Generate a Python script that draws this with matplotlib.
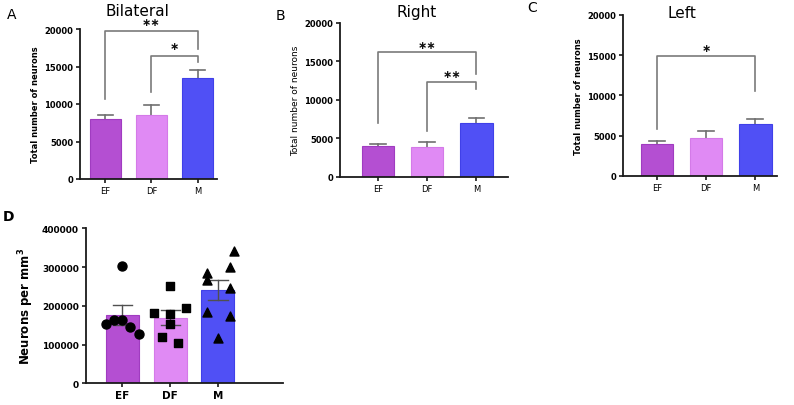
import matplotlib
matplotlib.use("Agg")
import matplotlib.pyplot as plt
import numpy as np

plt.rcParams['font.family'] = ['DejaVu Sans']

groups = ["EF", "DF", "M"]
colors = ["#b44fd2", "#e08af4", "#5050f5"]
edges = ["#a03cc0", "#d47ae8", "#4040e8"]

# Panel A-C: means and SEM
bilateral_mean = [8000, 8600, 13450]
bilateral_sem = [600, 1300, 1150]
right_mean = [4030, 3850, 6990]
right_sem = [280, 630, 690]
left_mean = [3950, 4700, 6450]
left_sem = [420, 830, 650]

# Panel D: individual values
ef_vals = [301900, 153000, 164100, 144500, 162600, 127200]
df_vals = [252000, 181400, 179600, 193500, 153000, 120300, 103200]
m_vals = [342400, 284700, 301000, 267500, 246900, 185000, 172900, 116100]
d_mean = [176000, 169000, 240000]
d_sem = [26000, 19500, 26000]

W, H = 794, 406
fig = plt.figure(figsize=(W / 100, H / 100), dpi=100)


def ax_from_px(l, r, top, bottom):
    return fig.add_axes([l / W, 1 - bottom / H, (r - l) / W, (bottom - top) / H])


def style(ax, xlim, ylim, yticks, tick_fs=6, bold_x=False):
    ax.set_xlim(*xlim)
    ax.set_ylim(*ylim)
    ax.spines['top'].set_visible(False)
    ax.spines['right'].set_visible(False)
    for s in ['left', 'bottom']:
        ax.spines[s].set_linewidth(1.3)
        ax.spines[s].set_color('#1a1a1a')
    ax.set_yticks(yticks)
    ax.set_yticklabels([str(v) for v in yticks], fontsize=tick_fs, fontweight='bold')
    ax.set_xticks(range(3))
    ax.set_xticklabels(groups, fontsize=tick_fs + (1 if bold_x else 0),
                       fontweight='bold' if bold_x else 'normal')
    ax.tick_params(axis='both', length=3, width=1.2, pad=2, color='#1a1a1a')


def bars_top_err(ax, means, sems):
    x = np.arange(3)
    ax.bar(x, means, width=0.66, color=colors, edgecolor=edges, linewidth=0.8, zorder=2)
    for xi, m, s in zip(x, means, sems):
        ax.plot([xi, xi], [m, m + s], color='#707070', lw=1.2, zorder=1)
        ax.plot([xi - 0.16, xi + 0.16], [m + s, m + s], color='#707070', lw=1.2, zorder=1)


def bracket(ax, x1, x2, y, yl, yr, text, ty):
    ax.plot([x1, x1, x2, x2], [yl, y, y, yr], color='#7a7a7a', lw=1.2, clip_on=False)
    ax.text((x1 + x2) / 2, ty, text, ha='center', va='center', fontsize=8,
            fontweight='bold', color='#111111', clip_on=False)


STAR = "\u2217"

# Panel A
axA = ax_from_px(80, 217, 30, 180)
bars_top_err(axA, bilateral_mean, bilateral_sem)
style(axA, (-0.55, 2.42), (0, 20000), [0, 5000, 10000, 15000, 20000])
axA.set_ylabel("Total number of neurons", fontsize=6, fontweight='bold', labelpad=3)
bracket(axA, 0, 2, 19800, 10700, 17400, STAR + STAR, 20900)
bracket(axA, 1, 2, 16400, 11600, 15600, STAR, 17700)
fig.text(137 / W, 1 - 12 / H, "Bilateral", ha='center', va='center', fontsize=11)
fig.text(12 / W, 1 - 15 / H, "A", ha='center', va='center', fontsize=10)

# Panel B
axB = ax_from_px(340, 508, 24, 177.7)
bars_top_err(axB, right_mean, right_sem)
style(axB, (-0.77, 2.64), (0, 20000), [0, 5000, 10000, 15000, 20000])
axB.set_ylabel("Total number of neurons", fontsize=6.5, labelpad=3)
bracket(axB, 0, 2, 16200, 7000, 13400, STAR + STAR, 17200)
bracket(axB, 1, 2, 12300, 6000, 11400, STAR + STAR, 13400)
fig.text(417 / W, 1 - 12 / H, "Right", ha='center', va='center', fontsize=11)
fig.text(280 / W, 1 - 16 / H, "B", ha='center', va='center', fontsize=10)

# Panel C
axC = ax_from_px(623, 777, 16, 176.7)
bars_top_err(axC, left_mean, left_sem)
style(axC, (-0.69, 2.44), (0, 20000), [0, 5000, 10000, 15000, 20000])
axC.set_ylabel("Total number of neurons", fontsize=6, fontweight='bold', labelpad=3)
bracket(axC, 0, 2, 14850, 5800, 10600, STAR, 15950)
fig.text(682 / W, 1 - 13 / H, "Left", ha='center', va='center', fontsize=11)
fig.text(532 / W, 1 - 8 / H, "C", ha='center', va='center', fontsize=10)

# Panel D
axD = ax_from_px(86, 283, 229.3, 384.3)
x = np.arange(3)
axD.bar(x, d_mean, width=0.69, color=colors, edgecolor=edges, linewidth=0.8, zorder=1)
for xi, m, s in zip(x, d_mean, d_sem):
    axD.plot([xi, xi], [m - s, m + s], color='#505050', lw=1.0, zorder=2)
    for yy in (m - s, m + s):
        axD.plot([xi - 0.2, xi + 0.2], [yy, yy], color='#505050', lw=1.0, zorder=2)

ef_off = [0.0, -0.34, -0.17, 0.17, 0.0, 0.34]
df_off = [0.0, -0.34, 0.0, 0.34, 0.0, -0.17, 0.17]
m_off = [0.34, -0.22, 0.26, -0.22, 0.26, -0.22, 0.26, 0.0]
axD.scatter(np.array(ef_off) + 0, ef_vals, marker='o', s=42, color='black', zorder=3, clip_on=False)
axD.scatter(np.array(df_off) + 1, df_vals, marker='s', s=36, color='black', zorder=3, clip_on=False)
axD.scatter(np.array(m_off) + 2, m_vals, marker='^', s=42, color='black', zorder=3, clip_on=False)
style(axD, (-0.76, 3.36), (0, 400000), [0, 100000, 200000, 300000, 400000],
      tick_fs=6.5, bold_x=True)
axD.set_ylabel("Neurons per mm$^\\mathbf{3}$", fontsize=8.5, fontweight='bold', labelpad=4)
fig.text(9 / W, 1 - 217 / H, "D", ha='center', va='center', fontsize=10, fontweight='bold')

fig.savefig("out.png", dpi=100)
